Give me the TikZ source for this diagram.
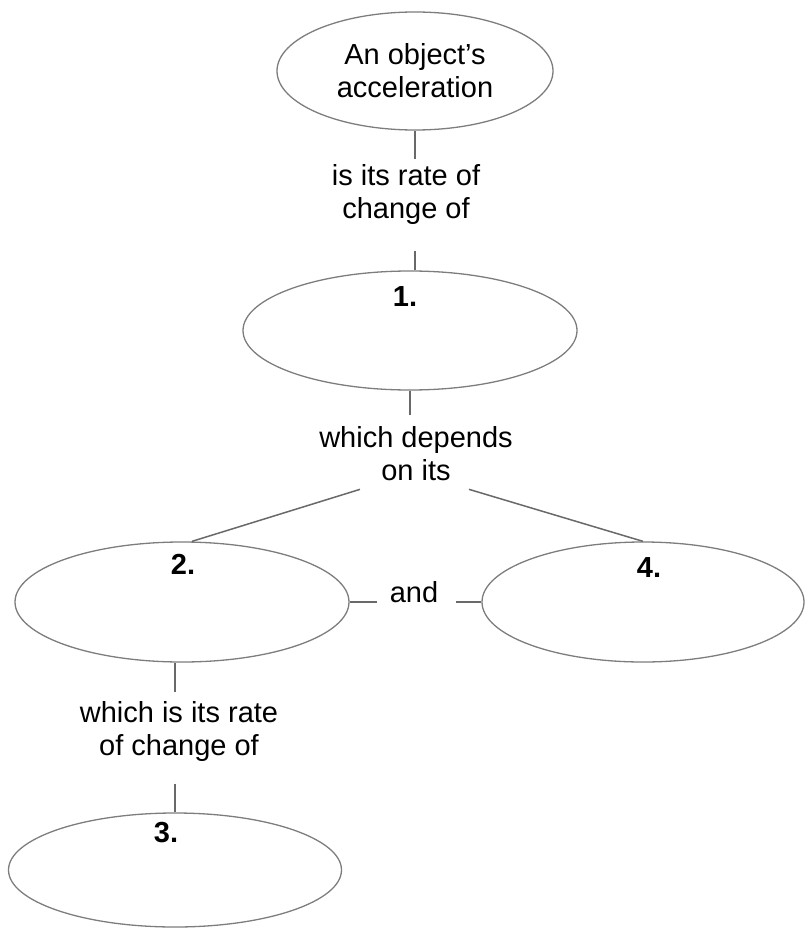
\documentclass[tikz,border=0pt]{standalone}
\usepackage{fontspec}
\setmainfont{Liberation Sans}
\usetikzlibrary{shapes.geometric,calc}
\definecolor{edgegray}{RGB}{125,125,125}
\definecolor{linegray}{RGB}{105,105,105}
\begin{document}
\begin{tikzpicture}[x=1pt,y=1pt,
  bubble/.style={draw=edgegray,line width=1.3pt,ellipse,inner sep=0pt},
  conn/.style={draw=linegray,line width=1.5pt},
  lbl/.style={align=center,inner sep=0pt,font=\fontsize{29}{33}\selectfont},
  num/.style={inner sep=0pt,font=\fontsize{29}{33}\selectfont\bfseries}]
\useasboundingbox (0,0) rectangle (804,-928);
% concept bubbles
\node[bubble,lbl,minimum width=276,minimum height=118] (A) at (415,-71) {An object’s\\acceleration};
\node[bubble,minimum width=334,minimum height=119] (B) at (410,-330.5) {};
\node[bubble,minimum width=334,minimum height=120] (C) at (182,-602) {};
\node[bubble,minimum width=322,minimum height=120] (D) at (643,-602) {};
\node[bubble,minimum width=333,minimum height=114] (E) at (175,-870) {};
% numbers
\node[num] (n1) at (405,-297) {1.};
\node[num] (n2) at (183,-564) {2.};
\node[num] (n4) at (649,-568) {4.};
\node[num] (n3) at (166,-833) {3.};
% link labels
\node[lbl] (L1) at (406,-195) {is its rate of\\change of};
\node[lbl] (L2) at (416,-454) {which depends\\on its};
\node[lbl] (L3) at (414,-592.5) {and};
\node[lbl] (L4) at (179,-731.5) {which is its rate\\of change of};
% connectors
\draw[conn] (A.south) -- ($(A.south |- L1.north)+(0,6)$);
\draw[conn] ($(A.south |- L1.south)+(0,-26)$) -- (A.south |- B.north);
\draw[conn] (B.south) -- ($(B.south |- L2.north)+(0,12)$);
\draw[conn] ($(L2.south)+(-56,-8)$) -- ($(C.north)+(10,0)$);
\draw[conn] ($(L2.south)+(53,-8)$) -- (D.north);
\draw[conn] (C.east) -- ($(C.east -| L3.west)+(-13,0)$);
\draw[conn] ($(D.west -| L3.east)+(18,0)$) -- (D.west);
\draw[conn] (C.south -| E.north) -- ($(L4.north -| E.north)+(0,9)$);
\draw[conn] ($(L4.south -| E.north)+(0,-22)$) -- (E.north);
\end{tikzpicture}
\end{document}
